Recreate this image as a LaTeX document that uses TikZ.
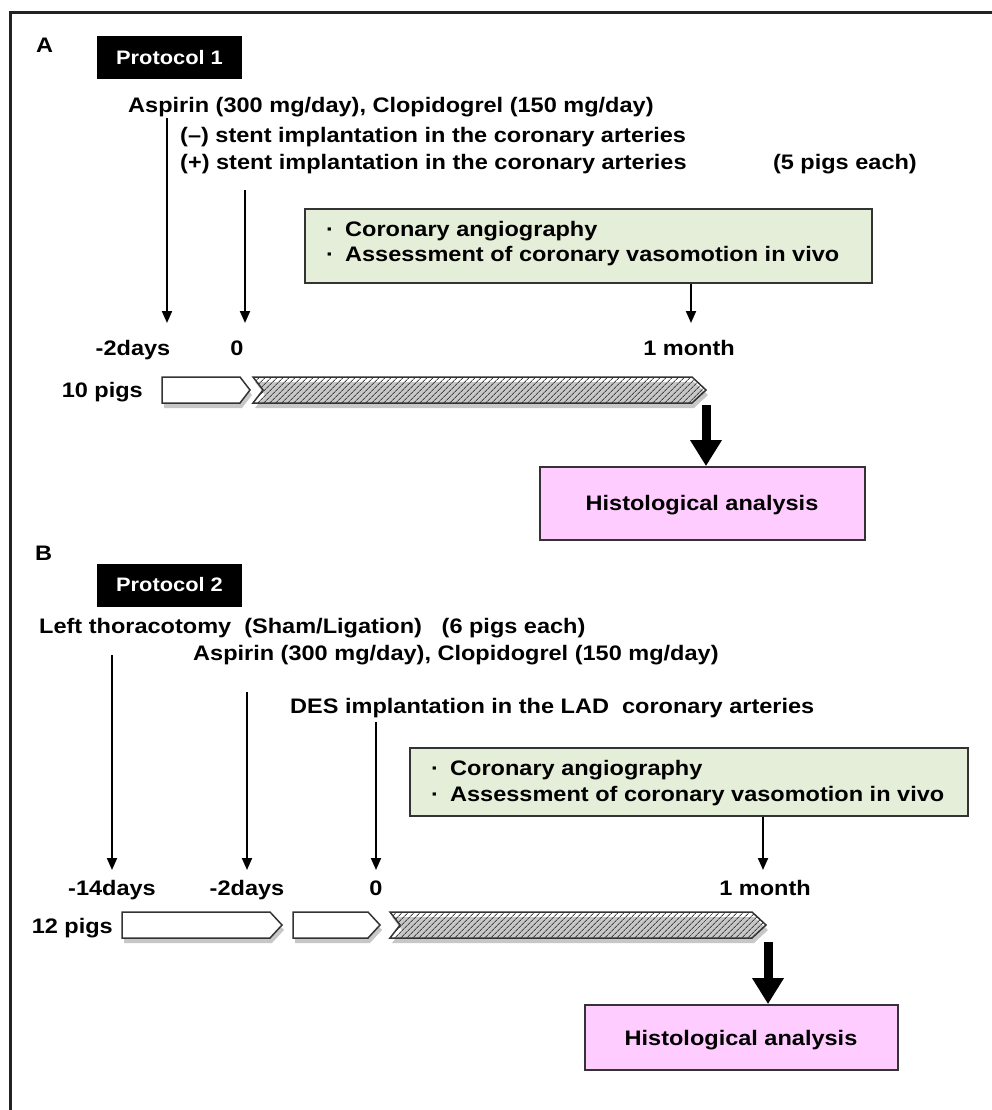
\documentclass[tikz,border=0pt]{standalone}
\usepackage{fontspec}
\setmainfont{Liberation Sans}[FakeStretch=1.12]
\usetikzlibrary{arrows.meta,patterns.meta}
\definecolor{frameC}{HTML}{222222}
\definecolor{greenF}{HTML}{E4EED8}
\definecolor{pinkF}{HTML}{FFCCFF}
\definecolor{edgeC}{HTML}{333333}
\definecolor{hatchC}{HTML}{444444}
\begin{document}
\begin{tikzpicture}[x=1pt,y=-1pt,
  txt/.style={font=\fontsize{21}{24}\selectfont\bfseries, inner sep=0pt, anchor=base west},
  txtc/.style={txt, anchor=base},
  txte/.style={txt, anchor=base east},
  proto/.style={fill=black, text=white, inner sep=0pt, minimum width=145pt, minimum height=43pt, font=\fontsize{19.5}{22}\selectfont\bfseries},
  gbox/.style={draw=edgeC, line width=1.8pt, fill=greenF, inner sep=0pt},
  pbox/.style={draw=edgeC, line width=1.8pt, fill=pinkF, inner sep=0pt, font=\fontsize{21}{24}\selectfont\bfseries},
  arr/.style={line width=2pt, -{Triangle[length=12pt,width=10pt]}},
  bigarr/.style={line width=9pt, -{Triangle[length=26pt,width=30pt]}},
  whitebar/.style={draw=edgeC, line width=1.5pt, fill=white},
  hatchbar/.style={draw=edgeC, line width=1.5pt, pattern={Lines[angle=45,distance=4pt,line width=1pt]}, pattern color=hatchC},
  shadowbar/.style={fill=black!22, draw=none},
]
\useasboundingbox (0,0) rectangle (991,1110);
\fill[white] (0,0) rectangle (991,1110);
% frame
\draw[frameC, line width=3pt] (1000,13) -- (10,13) -- (10,1120);

% ================= Panel A =================
\node[txt] (labA) at (36,53) {A};
\node[proto] (protoA) at (169.5,57.5) {Protocol 1};
\node[txt] (aspA) at (128,113) {Aspirin (300 mg/day), Clopidogrel (150 mg/day)};
\node[txt] (minusA) at (180,143) {(–) stent implantation in the coronary arteries};
\node[txt] (plusA) at (180,170) {(+) stent implantation in the coronary arteries};
\node[txte] (eachA) at (917,170) {(5 pigs each)};

\node[gbox, minimum width=567pt, minimum height=74pt] (gA) at (588.5,246) {};
\node[txt] (gA1) at (326,236) {\makebox[19pt][l]{·}Coronary angiography};
\node[txt] (gA2) at (326,261) {\makebox[19pt][l]{·}Assessment of coronary vasomotion in vivo};

\node[txtc] (tA1) at (133,355) {-2days};
\node[txtc] (tA2) at (237,355) {0};
\node[txtc] (tA3) at (689,355) {1 month};
\node[txte] (pigsA) at (143,397) {10 pigs};

\coordinate (sA1) at (167,118);
\coordinate (eA1) at (167,323);
\coordinate (sA2) at (245,190);
\coordinate (eA2) at (245,323);
\coordinate (eA3) at (691,323);
\draw[arr] (sA1) -- (eA1);
\draw[arr] (sA2) -- (eA2);
\draw[arr] (gA.south -| eA3) -- (eA3);

% bars A
\fill[shadowbar] (164,382) -- (242,382) -- (252,395) -- (242,408) -- (164,408) -- cycle;
\fill[shadowbar] (255,382) -- (694,382) -- (708,395) -- (694,408) -- (255,408) -- (265,395) -- cycle;
\draw[whitebar] (162,377) -- (240,377) -- (250,390) -- (240,403) -- (162,403) -- cycle;
\draw[hatchbar] (253,377) -- (692,377) -- (706,390) -- (692,403) -- (253,403) -- (263,390) -- cycle;

\node[pbox, minimum width=325pt, minimum height=73pt] (histA) at (702.5,503.5) {};
\node[txtc] (histAt) at (702,510) {Histological analysis};
\coordinate (bA1) at (706,405);
\draw[bigarr] (bA1) -- (histA.north -| bA1);

% ================= Panel B =================
\node[txt] (labB) at (35,560) {B};
\node[proto] (protoB) at (169.5,585) {Protocol 2};
\node[txt] (thorB) at (39,633) {Left thoracotomy\ \ (Sham/Ligation)\ \ \ (6 pigs each)};
\node[txt] (aspB) at (193,660) {Aspirin (300 mg/day), Clopidogrel (150 mg/day)};
\node[txt] (desB) at (290,713) {DES implantation in the LAD\ \ coronary arteries};

\node[gbox, minimum width=558pt, minimum height=68pt] (gB) at (689,782) {};
\node[txt] (gB1) at (431,775) {\makebox[19pt][l]{·}Coronary angiography};
\node[txt] (gB2) at (431,801) {\makebox[19pt][l]{·}Assessment of coronary vasomotion in vivo};

\node[txtc] (tB1) at (112,895) {-14days};
\node[txtc] (tB2) at (247,895) {-2days};
\node[txtc] (tB3) at (376,895) {0};
\node[txtc] (tB4) at (765,895) {1 month};
\node[txte] (pigsB) at (113,933) {12 pigs};

\coordinate (sB1) at (112,655);
\coordinate (eB1) at (112,870);
\coordinate (sB2) at (247,692);
\coordinate (eB2) at (247,870);
\coordinate (sB3) at (376,722);
\coordinate (eB3) at (376,870);
\coordinate (eB4) at (763,870);
\draw[arr] (sB1) -- (eB1);
\draw[arr] (sB2) -- (eB2);
\draw[arr] (sB3) -- (eB3);
\draw[arr] (gB.south -| eB4) -- (eB4);

% bars B
\fill[shadowbar] (124,917) -- (272,917) -- (284,930) -- (272,943) -- (124,943) -- cycle;
\fill[shadowbar] (295,917) -- (370,917) -- (382,930) -- (370,943) -- (295,943) -- cycle;
\fill[shadowbar] (392,917) -- (754,917) -- (768,930) -- (754,943) -- (392,943) -- (402,930) -- cycle;
\draw[whitebar] (122,912) -- (270,912) -- (282,925) -- (270,938) -- (122,938) -- cycle;
\draw[whitebar] (293,912) -- (368,912) -- (380,925) -- (368,938) -- (293,938) -- cycle;
\draw[hatchbar] (390,912) -- (752,912) -- (766,925) -- (752,938) -- (390,938) -- (400,925) -- cycle;

\node[pbox, minimum width=313pt, minimum height=65pt] (histB) at (741.5,1037.5) {};
\node[txtc] (histBt) at (741,1045) {Histological analysis};
\coordinate (bB1) at (768,942);
\draw[bigarr] (bB1) -- (histB.north -| bB1);
\end{tikzpicture}
\end{document}
